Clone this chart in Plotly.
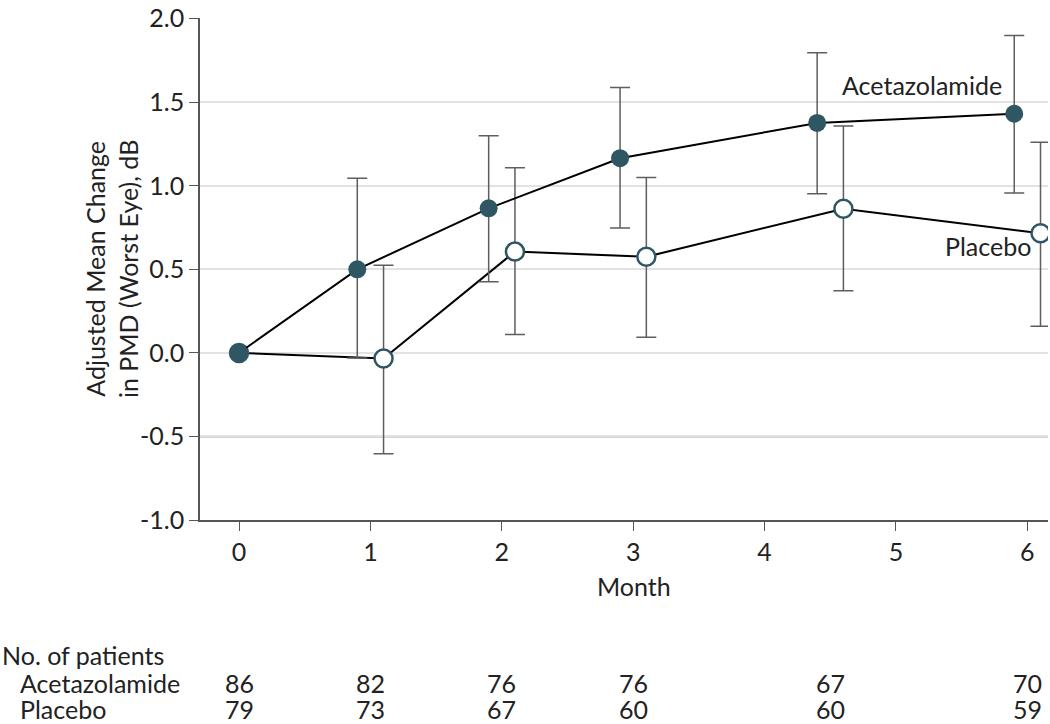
import plotly.graph_objects as go

# Adjusted mean change in PMD (worst eye), dB, with 95% CI bounds
aceta_month = [0, 0.9, 1.9, 2.9, 4.4, 5.9]
aceta_mean = [0.0, 0.50, 0.865, 1.165, 1.376, 1.431]
aceta_upper = [None, 1.045, 1.30, 1.588, 1.796, 1.90]
aceta_lower = [None, -0.03, 0.425, 0.747, 0.952, 0.957]

placebo_month = [0, 1.1, 2.1, 3.1, 4.6, 6.1]
placebo_mean = [0.0, -0.034, 0.606, 0.575, 0.863, 0.716]
placebo_upper = [None, 0.525, 1.108, 1.05, 1.357, 1.26]
placebo_lower = [None, -0.604, 0.11, 0.094, 0.372, 0.16]

# y ticks (hyphen minus as in the original)
y_ticks = [-1.0, -0.5, 0.0, 0.5, 1.0, 1.5, 2.0]
y_ticktext = ['-1.0', '-0.5', '0.0', '0.5', '1.0', '1.5', '2.0']

# numbers at risk
risk_month = [0, 1, 2, 3, 4.5, 6]
aceta_n = [86, 82, 76, 76, 67, 70]
placebo_n = [79, 73, 67, 60, 60, 59]

FONT = "Lato"
FS = 25
TEAL = "#2f5763"
ERR = "#5e5e5e"


def err_parts(mean, upper, lower):
    plus = [None if u is None else u - m for m, u in zip(mean, upper)]
    minus = [None if l is None else m - l for m, l in zip(mean, lower)]
    return plus, minus


fig = go.Figure()

p_plus, p_minus = err_parts(placebo_mean, placebo_upper, placebo_lower)
fig.add_trace(go.Scatter(
    x=placebo_month, y=placebo_mean, mode='lines+markers', name='Placebo',
    line=dict(color='black', width=2),
    marker=dict(size=18, color='white', line=dict(color=TEAL, width=2.5)),
    error_y=dict(type='data', symmetric=False, array=p_plus, arrayminus=p_minus,
                 color=ERR, thickness=1.5, width=10),
))

a_plus, a_minus = err_parts(aceta_mean, aceta_upper, aceta_lower)
fig.add_trace(go.Scatter(
    x=aceta_month, y=aceta_mean, mode='lines+markers', name='Acetazolamide',
    line=dict(color='black', width=2),
    marker=dict(size=18, color=TEAL, line=dict(width=0)),
    error_y=dict(type='data', symmetric=False, array=a_plus, arrayminus=a_minus,
                 color=ERR, thickness=1.5, width=10),
))

# darker reference lines at 0 and -0.5
for yv in [0, -0.5]:
    fig.add_shape(type='line', xref='paper', x0=0, x1=1, y0=yv, y1=yv,
                  line=dict(color='#555555', width=1.5), layer='below')

fig.update_layout(
    width=1050, height=724,
    margin=dict(l=200, r=2, t=11, b=204),
    plot_bgcolor='white', paper_bgcolor='white',
    showlegend=False,
    font=dict(family=FONT, size=FS, color='#222222'),
    xaxis=dict(range=[-0.297, 6.157], tickvals=[0, 1, 2, 3, 4, 5, 6],
               showgrid=False, zeroline=False, showline=True, linecolor='#555555',
               linewidth=1.5, ticks='outside', ticklen=9, tickcolor='#555555',
               tickfont=dict(size=FS)),
    yaxis=dict(range=[-1.0, 2.004], tickvals=y_ticks, ticktext=y_ticktext,
               ticklabeloverflow='allow',
               showgrid=True, gridcolor='#e2e2e2', gridwidth=2,
               zeroline=False, showline=True, linecolor='#555555', linewidth=1.5,
               ticks='outside', ticklen=9, tickcolor='#555555', tickfont=dict(size=FS)),
)

annotations = [
    dict(text='Adjusted Mean Change<br>in PMD (Worst Eye), dB', xref='paper', yref='paper',
         x=(111 - 200) / 848, y=0.5, textangle=-90, showarrow=False, font=dict(size=FS),
         xanchor='center', yanchor='middle'),
    dict(text='Month', xref='paper', yref='paper', x=(634 - 200) / 848, y=(520 - 587) / 509,
         showarrow=False, font=dict(size=FS), xanchor='center', yanchor='middle'),
    dict(text='Acetazolamide', xref='x', yref='y', x=5.82, y=1.605, showarrow=False,
         xanchor='right', yanchor='middle', font=dict(size=FS)),
    dict(text='Placebo', xref='x', yref='y', x=6.04, y=0.64, showarrow=False,
         xanchor='right', yanchor='middle', font=dict(size=FS)),
    dict(text='No. of patients', xref='paper', yref='paper', x=-0.236, y=(520 - 657) / 509,
         showarrow=False, xanchor='left', yanchor='middle', font=dict(size=FS)),
    dict(text='Acetazolamide', xref='paper', yref='paper', x=-0.2146, y=(520 - 685) / 509,
         showarrow=False, xanchor='left', yanchor='middle', font=dict(size=FS)),
    dict(text='Placebo', xref='paper', yref='paper', x=-0.2146, y=(520 - 712) / 509,
         showarrow=False, xanchor='left', yanchor='middle', font=dict(size=FS)),
]
for m, a, p in zip(risk_month, aceta_n, placebo_n):
    annotations.append(dict(text=str(a), xref='x', yref='paper', x=m, y=(520 - 685) / 509,
                            showarrow=False, xanchor='center', yanchor='middle',
                            font=dict(size=FS)))
    annotations.append(dict(text=str(p), xref='x', yref='paper', x=m, y=(520 - 712) / 509,
                            showarrow=False, xanchor='center', yanchor='middle',
                            font=dict(size=FS)))
fig.update_layout(annotations=annotations)

fig.write_html("out.html", config={'displayModeBar': False},
               post_script="document.body.style.margin='0';document.body.style.overflow='hidden';")
